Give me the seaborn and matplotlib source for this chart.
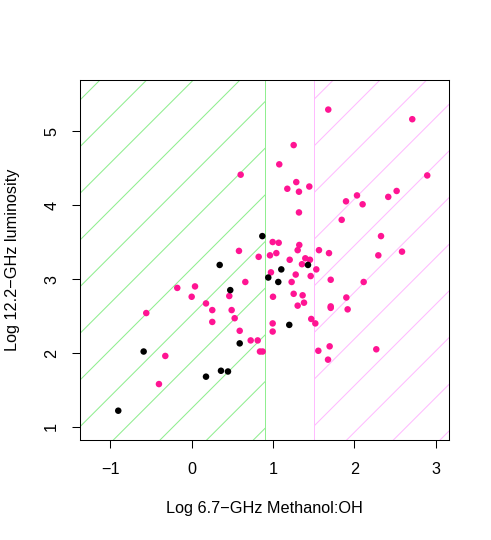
import numpy as np
import pandas as pd
import matplotlib
matplotlib.use('Agg')
import matplotlib.pyplot as plt
import seaborn as sns

# Log 6.7-GHz methanol:OH ratio vs log 12.2-GHz luminosity
pink_x = [1.678, 2.71, 1.253, 1.076, 0.602, 2.894, 1.285, 1.445, 1.175, 1.318,
          2.518, 2.415, 2.031, 1.896, 2.10, 1.318, 1.843, 2.326, 0.995, 1.069,
          1.322, 1.302, 1.564, 1.687, 2.293, 2.584, 0.581, 0.823, 0.962, 1.04,
          1.204, 1.396, 1.453, 1.355, 0.974, 1.278, 1.462, 1.531, 1.708, 2.113,
          1.228, 0.659, 0.041, -0.177, 0.0, 0.462, 0.999, 1.253, 1.363, 1.38,
          1.302, 1.90, 1.708, 1.708, 1.916, -0.558, 0.176, 0.253, 0.491, 0.528,
          0.253, 0.995, 0.995, 0.59, 1.469, 1.519, 0.725, 0.811, 0.839, 0.872,
          -0.324, -0.402, 1.556, 1.695, 1.675, 2.268]
pink_y = [5.29, 5.16, 4.81, 4.55, 4.41, 4.40, 4.31, 4.25, 4.22, 4.18,
          4.19, 4.11, 4.13, 4.05, 4.01, 3.90, 3.80, 3.58, 3.50, 3.49,
          3.46, 3.39, 3.39, 3.35, 3.32, 3.37, 3.38, 3.30, 3.32, 3.35,
          3.26, 3.28, 3.26, 3.20, 3.09, 3.06, 3.04, 3.13, 2.99, 2.96,
          2.96, 2.96, 2.90, 2.88, 2.76, 2.77, 2.76, 2.80, 2.78, 2.68,
          2.64, 2.75, 2.63, 2.61, 2.59, 2.54, 2.67, 2.58, 2.58, 2.47,
          2.42, 2.40, 2.29, 2.30, 2.46, 2.40, 2.17, 2.17, 2.02, 2.02,
          1.96, 1.58, 2.03, 2.09, 1.91, 2.05]

black_x = [0.868, 0.344, 1.101, 1.429, 0.941, 1.064, 0.474, 1.199, 0.59, -0.59,
           0.36, 0.446, 0.176, -0.902]
black_y = [3.58, 3.19, 3.13, 3.19, 3.02, 2.96, 2.85, 2.38, 2.13, 2.02,
           1.76, 1.75, 1.68, 1.22]

green_cut = 0.9
pink_cut = 1.5

x_ticks = [-1, 0, 1, 2, 3]
y_ticks = [1, 2, 3, 4, 5]

df = pd.DataFrame({
    'ratio': pink_x + black_x,
    'lum': pink_y + black_y,
    'group': ['pink'] * len(pink_x) + ['black'] * len(black_x),
})

sns.set_theme(style='white')
plt.rcParams['font.family'] = ['Liberation Sans', 'DejaVu Sans']

fig = plt.figure(figsize=(4.91, 5.4), dpi=100)
ax = fig.add_axes([80 / 491, 100 / 540, 369.3 / 491, 360 / 540])
xlim = (-1.372, 3.165)
ylim = (0.824, 5.69)
ax.set_xlim(xlim)
ax.set_ylim(ylim)

# 45-degree hatching of the two regions (drawn in screen space)
inv = ax.transData.inverted()
(px0, py0), (px1, py1) = ax.transAxes.transform([(0, 0), (1, 1)])
for lo, hi, col in [(xlim[0], green_cut, '#90EE90'), (pink_cut, xlim[1], '#FFBBFF')]:
    clip = ax.axvspan(lo, hi, facecolor='none', edgecolor='none')
    for off in np.arange(360, -420, -46.67):
        pts = inv.transform([(px0 - 50, px0 - 50 + off), (px1 + 50, px1 + 50 + off)])
        ln, = ax.plot(pts[:, 0], pts[:, 1], color=col, lw=0.75, zorder=1)
        ln.set_clip_path(clip)
ax.axvline(green_cut, color='#90EE90', lw=0.5, antialiased=False, zorder=1)
ax.axvline(pink_cut, color='#FFBBFF', lw=0.5, antialiased=False, zorder=1)

sns.scatterplot(data=df, x='ratio', y='lum', hue='group', hue_order=['pink', 'black'],
                palette={'pink': '#FF1493', 'black': 'black'}, s=22, linewidth=0,
                legend=False, ax=ax, zorder=3)
ax.set_xlim(xlim)
ax.set_ylim(ylim)

ax.set_xticks(x_ticks)
ax.set_yticks(y_ticks)
ax.tick_params(bottom=True, left=True, direction='out', length=6, width=0.75,
               colors='black', labelsize=11.7, pad=9)
ax.tick_params(axis='x', pad=9.8)
for lab in ax.get_yticklabels():
    lab.set_rotation(90)
    lab.set_va('center')
for sp in ax.spines.values():
    sp.set_color('black')
    sp.set_linewidth(0.75)

ax.set_xlabel('Log 6.7\u2212GHz Methanol:OH', fontsize=11.7, color='black')
ax.set_ylabel('Log 12.2\u2212GHz luminosity', fontsize=11.7, color='black')
ax.xaxis.set_label_coords(0.5, (440 - 509) / 360)
ax.xaxis.label.set_va('center')
ax.yaxis.set_label_coords((13 - 80) / 369.3, 0.5)
ax.yaxis.label.set_va('center')

fig.savefig('out.png', dpi=100, facecolor='white')
